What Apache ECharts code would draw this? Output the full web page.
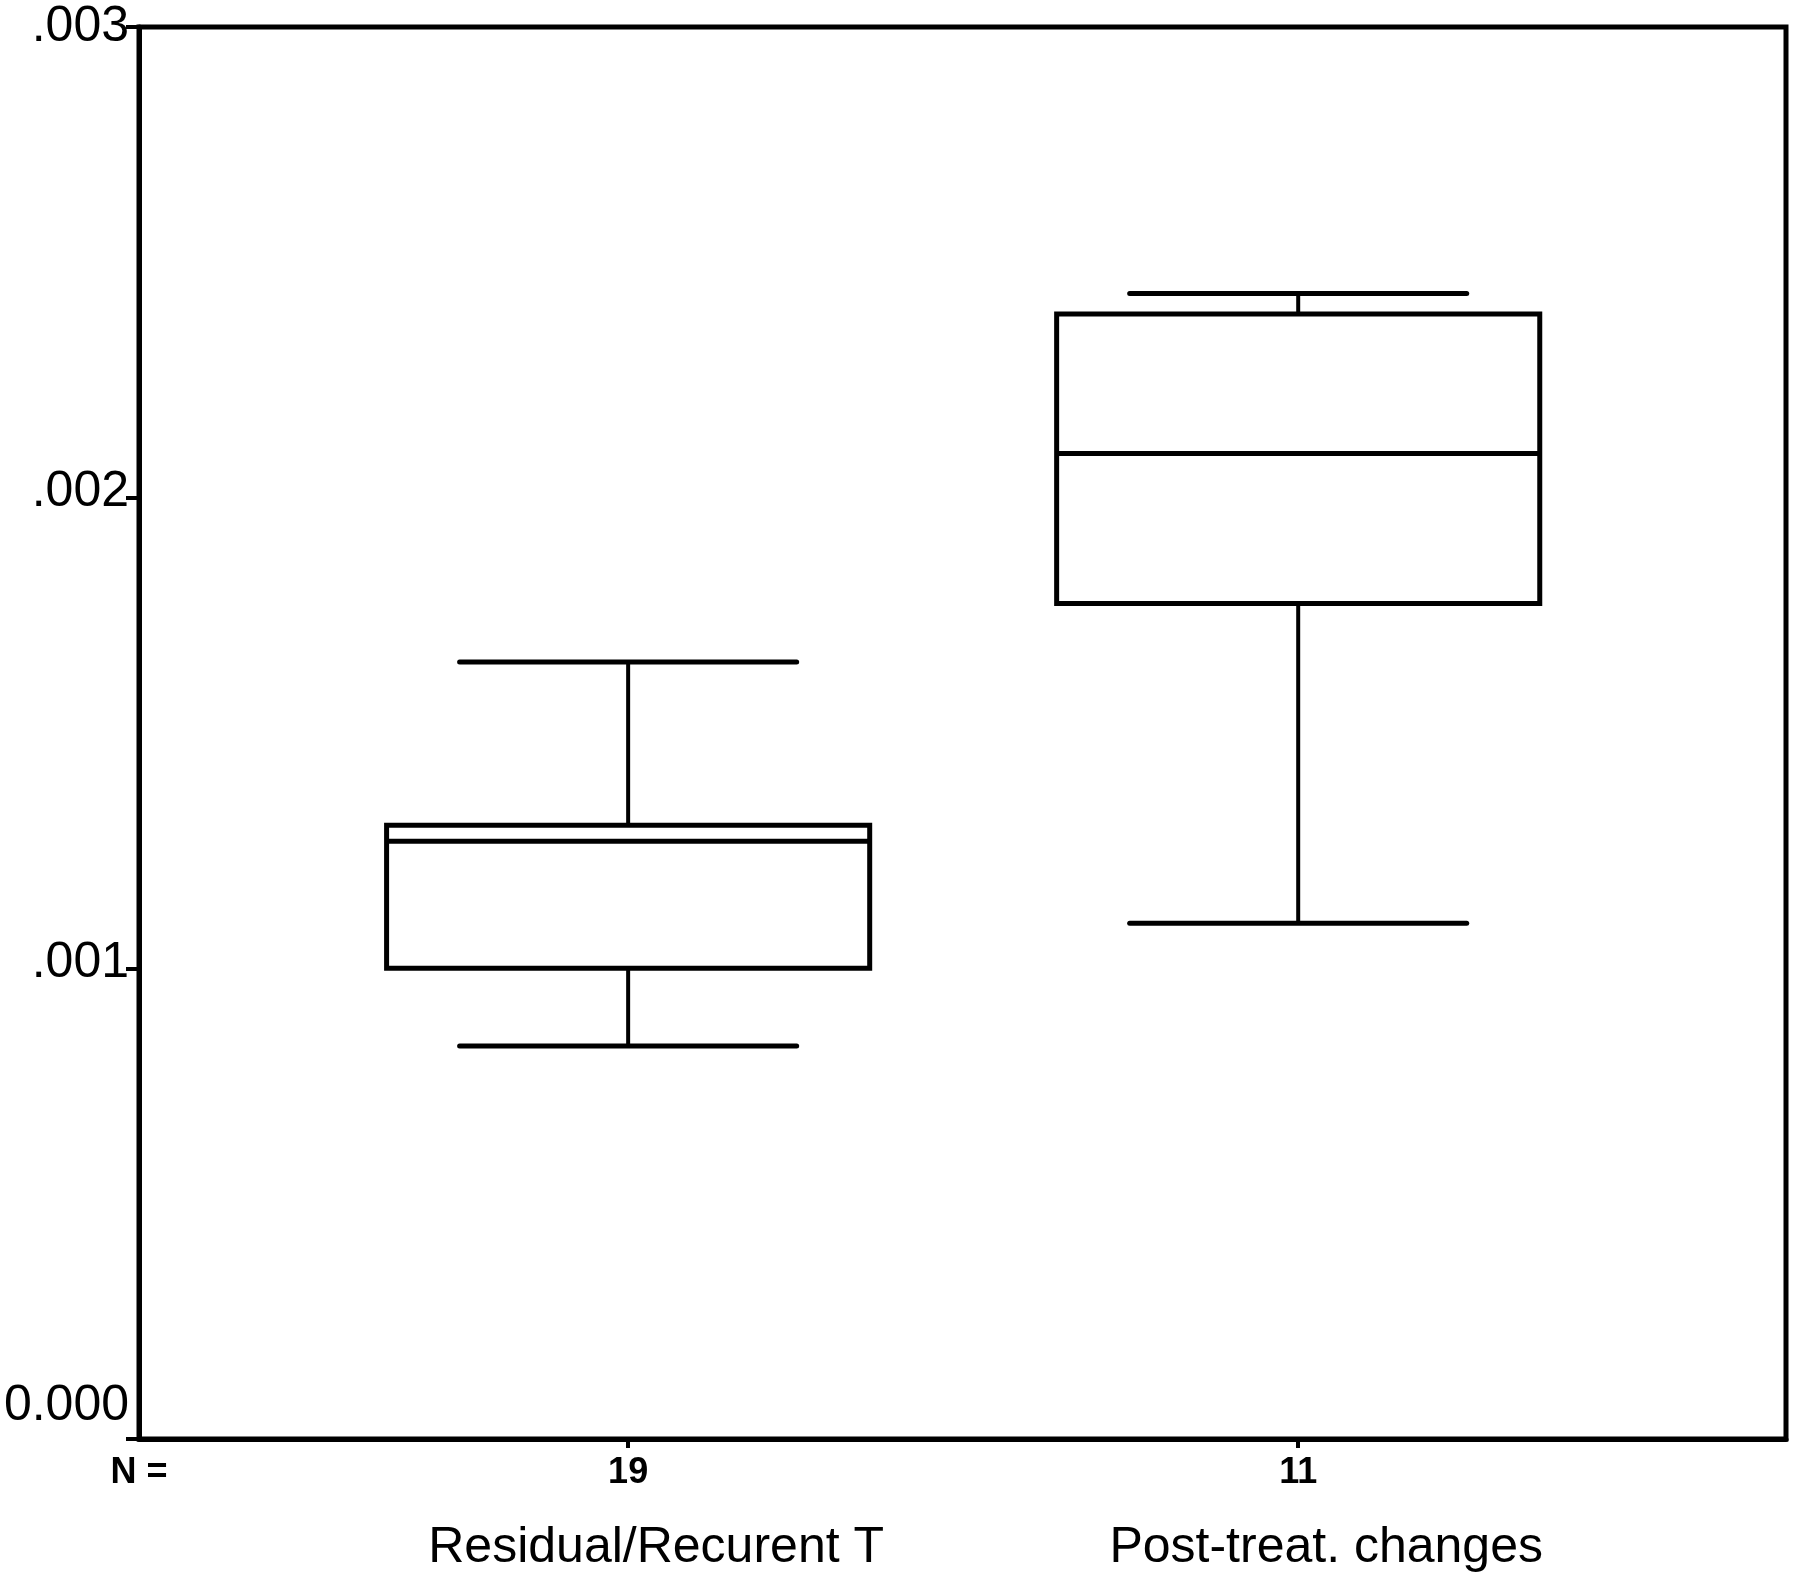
<!DOCTYPE html>
<html>
<head>
<meta charset="utf-8">
<script src="https://cdn.jsdelivr.net/npm/echarts@6/dist/echarts.min.js"></script>
<style>
html,body{margin:0;padding:0;background:#fff;}
#chart{width:1800px;height:1579px;}
</style>
</head>
<body>
<div id="chart"></div>
<script>
// ---- data ----
const categories = ['Residual/Recurent T', 'Post-treat. changes'];
const counts = [19, 11];
const positions = [1, 2];
const whiskerLow = [0.000835, 0.001096];
const q1 = [0.001000, 0.001775];
const medians = [0.001270, 0.002094];
const q3 = [0.001304, 0.002390];
const whiskerHigh = [0.001651, 0.002434];
const yTickLabels = ['0.000', '.001', '.002', '.003'];
const nLabel = 'N =';

// ---- build ----
const FONT = '"Liberation Sans", Arial, sans-serif';
const xMin = 0.27, xMax = 2.728;
const seriesData = positions.map((p, i) => [p, whiskerLow[i], q1[i], medians[i], q3[i], whiskerHigh[i]]);

const chart = echarts.init(document.getElementById('chart'), null, {renderer: 'canvas'});
chart.setOption({
  backgroundColor: '#ffffff',
  animation: false,
  grid: {
    left: 139, right: 14, top: 27, bottom: 140,
    show: true, borderColor: '#000', borderWidth: 5, backgroundColor: 'transparent'
  },
  xAxis: {
    type: 'value', min: xMin, max: xMax,
    splitLine: {show: false},
    axisLine: {show: true, lineStyle: {color: '#000', width: 5}},
    axisTick: {show: true, customValues: positions, length: 9, inside: false, lineStyle: {color: '#000', width: 4}},
    axisLabel: {
      show: true,
      customValues: [xMin].concat(positions),
      margin: 9,
      color: '#000',
      fontFamily: FONT,
      formatter: function (v) {
        if (Math.abs(v - xMin) < 1e-6) return '{n|' + nLabel + '}';
        const i = positions.indexOf(Math.round(v));
        return '{k|' + counts[i] + '}\n{c|' + categories[i] + '}';
      },
      rich: {
        n: {fontFamily: FONT, fontSize: 36, fontWeight: 'bold', lineHeight: 50, color: '#000'},
        k: {fontFamily: FONT, fontSize: 36, fontWeight: 'bold', lineHeight: 50, color: '#000'},
        c: {fontFamily: FONT, fontSize: 50, lineHeight: 100, color: '#000', padding: [0, 0, 0, 56]}
      }
    }
  },
  yAxis: {
    type: 'value', min: 0, max: 0.003, interval: 0.001,
    splitLine: {show: false},
    axisLine: {show: true, lineStyle: {color: '#000', width: 5}},
    axisTick: {show: true, length: 13, inside: false, lineStyle: {color: '#000', width: 4}},
    axisLabel: {
      margin: 10,
      color: '#000',
      fontFamily: FONT,
      fontSize: 50,
      formatter: function (v) {
        const i = Math.round(v / 0.001);
        if (i === 0) return '{z|' + yTickLabels[i] + '}';
        if (i === 3) return '{t|' + yTickLabels[i] + '}';
        return '{a|' + yTickLabels[i] + '}';
      },
      rich: {
        z: {fontFamily: FONT, fontSize: 50, color: '#000', padding: [0, 0, 66, 0]},
        a: {fontFamily: FONT, fontSize: 50, color: '#000', padding: [0, 0, 10, 0]},
        t: {fontFamily: FONT, fontSize: 50, color: '#000'}
      }
    }
  },
  series: [{
    type: 'custom',
    data: seriesData,
    encode: {x: 0, y: [1, 2, 3, 4, 5]},
    clip: false,
    renderItem: function (params, api) {
      const x = api.value(0);
      const lo = api.coord([x, api.value(1)]);
      const b1 = api.coord([x, api.value(2)]);
      const md = api.coord([x, api.value(3)]);
      const b3 = api.coord([x, api.value(4)]);
      const hi = api.coord([x, api.value(5)]);
      const halfBox = api.size([0.721, 0])[0] / 2;
      const halfCap = api.size([0.503, 0])[0] / 2;
      const cx = lo[0];
      const strokeBox = {stroke: '#000', lineWidth: 5, fill: null};
      const strokeW = {stroke: '#000', lineWidth: 4};
      const strokeCap = {stroke: '#000', lineWidth: 5, lineCap: 'round'};
      return {
        type: 'group',
        children: [
          {type: 'line', shape: {x1: cx, y1: hi[1], x2: cx, y2: b3[1]}, style: strokeW},
          {type: 'line', shape: {x1: cx, y1: b1[1], x2: cx, y2: lo[1]}, style: strokeW},
          {type: 'line', shape: {x1: cx - halfCap, y1: hi[1], x2: cx + halfCap, y2: hi[1]}, style: strokeCap},
          {type: 'line', shape: {x1: cx - halfCap, y1: lo[1], x2: cx + halfCap, y2: lo[1]}, style: strokeCap},
          {type: 'rect', shape: {x: cx - halfBox, y: b3[1], width: halfBox * 2, height: b1[1] - b3[1]}, style: strokeBox},
          {type: 'line', shape: {x1: cx - halfBox, y1: md[1], x2: cx + halfBox, y2: md[1]}, style: {stroke: '#000', lineWidth: 5}}
        ]
      };
    }
  }]
});
</script>
</body>
</html>
